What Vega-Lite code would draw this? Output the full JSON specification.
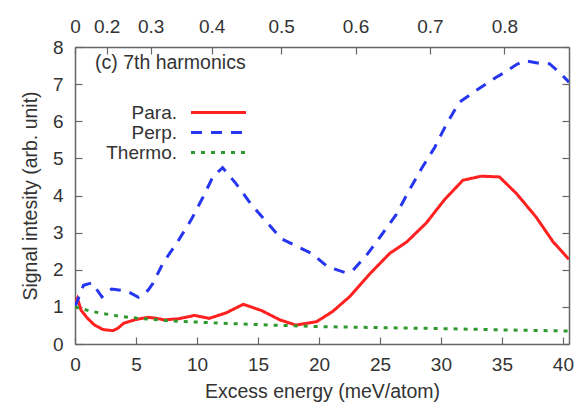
{
  "$schema": "https://vega.github.io/schema/vega-lite/v6.json",
  "width": 494,
  "height": 297,
  "autosize": {"type": "none"},
  "padding": {"left": 75, "top": 47, "right": 7, "bottom": 61},
  "background": "white",
  "config": {
    "view": {"stroke": null},
    "font": "Liberation Sans",
    "axis": {
      "domainColor": "#666",
      "domainWidth": 1.5,
      "tickColor": "#666",
      "tickWidth": 1.2,
      "tickSize": -7,
      "grid": false,
      "labelFont": "Liberation Sans",
      "labelFontSize": 19,
      "labelColor": "#333",
      "titleFont": "Liberation Sans",
      "titleFontSize": 19.5,
      "titleFontWeight": "normal",
      "titleColor": "#333"
    }
  },
  "title": {
    "text": "(c) 7th harmonics",
    "anchor": "start",
    "frame": "group",
    "dx": 20,
    "dy": 60,
    "fontSize": 19.5,
    "fontWeight": "normal",
    "font": "Liberation Sans",
    "color": "#333"
  },
  "data": {
    "values": [
      {"series": "Para.", "E": 0, "v": 1.1},
      {"series": "Para.", "E": 0.2, "v": 1.23},
      {"series": "Para.", "E": 0.5, "v": 0.91},
      {"series": "Para.", "E": 1.0, "v": 0.7},
      {"series": "Para.", "E": 1.6, "v": 0.51},
      {"series": "Para.", "E": 2.3, "v": 0.39},
      {"series": "Para.", "E": 3.1, "v": 0.36},
      {"series": "Para.", "E": 3.5, "v": 0.42},
      {"series": "Para.", "E": 4.0, "v": 0.56},
      {"series": "Para.", "E": 5.0, "v": 0.66},
      {"series": "Para.", "E": 6.0, "v": 0.72},
      {"series": "Para.", "E": 6.7, "v": 0.69},
      {"series": "Para.", "E": 7.3, "v": 0.65},
      {"series": "Para.", "E": 8.5, "v": 0.68},
      {"series": "Para.", "E": 9.8, "v": 0.77},
      {"series": "Para.", "E": 11.0, "v": 0.69},
      {"series": "Para.", "E": 12.4, "v": 0.84},
      {"series": "Para.", "E": 13.8, "v": 1.07},
      {"series": "Para.", "E": 15.3, "v": 0.9},
      {"series": "Para.", "E": 16.8, "v": 0.65},
      {"series": "Para.", "E": 18.1, "v": 0.51},
      {"series": "Para.", "E": 19.8, "v": 0.6},
      {"series": "Para.", "E": 21.1, "v": 0.87},
      {"series": "Para.", "E": 22.5, "v": 1.27},
      {"series": "Para.", "E": 24.2, "v": 1.9},
      {"series": "Para.", "E": 25.8, "v": 2.44},
      {"series": "Para.", "E": 27.2, "v": 2.75},
      {"series": "Para.", "E": 28.8, "v": 3.26},
      {"series": "Para.", "E": 30.3, "v": 3.89},
      {"series": "Para.", "E": 31.8, "v": 4.41},
      {"series": "Para.", "E": 33.3, "v": 4.52},
      {"series": "Para.", "E": 34.8, "v": 4.5},
      {"series": "Para.", "E": 36.2, "v": 4.05},
      {"series": "Para.", "E": 37.8, "v": 3.42},
      {"series": "Para.", "E": 39.2, "v": 2.75},
      {"series": "Para.", "E": 40.5, "v": 2.28},
      {"series": "Perp.", "E": 0, "v": 1.0},
      {"series": "Perp.", "E": 0.3, "v": 1.25},
      {"series": "Perp.", "E": 0.7, "v": 1.58},
      {"series": "Perp.", "E": 1.4, "v": 1.65},
      {"series": "Perp.", "E": 2.2, "v": 1.27},
      {"series": "Perp.", "E": 3.0, "v": 1.48},
      {"series": "Perp.", "E": 4.3, "v": 1.42},
      {"series": "Perp.", "E": 5.2, "v": 1.26},
      {"series": "Perp.", "E": 6.0, "v": 1.45},
      {"series": "Perp.", "E": 6.4, "v": 1.64},
      {"series": "Perp.", "E": 7.2, "v": 2.17},
      {"series": "Perp.", "E": 8.4, "v": 2.75},
      {"series": "Perp.", "E": 9.5, "v": 3.33},
      {"series": "Perp.", "E": 10.5, "v": 3.96},
      {"series": "Perp.", "E": 11.3, "v": 4.5},
      {"series": "Perp.", "E": 12.1, "v": 4.75},
      {"series": "Perp.", "E": 13.2, "v": 4.32},
      {"series": "Perp.", "E": 14.4, "v": 3.78},
      {"series": "Perp.", "E": 15.7, "v": 3.29},
      {"series": "Perp.", "E": 16.9, "v": 2.84},
      {"series": "Perp.", "E": 18.4, "v": 2.6},
      {"series": "Perp.", "E": 19.5, "v": 2.42},
      {"series": "Perp.", "E": 20.7, "v": 2.08},
      {"series": "Perp.", "E": 22.1, "v": 1.93},
      {"series": "Perp.", "E": 22.8, "v": 1.99},
      {"series": "Perp.", "E": 23.9, "v": 2.39},
      {"series": "Perp.", "E": 25.2, "v": 2.97},
      {"series": "Perp.", "E": 26.3, "v": 3.47},
      {"series": "Perp.", "E": 27.4, "v": 4.14},
      {"series": "Perp.", "E": 28.4, "v": 4.72},
      {"series": "Perp.", "E": 29.5, "v": 5.3},
      {"series": "Perp.", "E": 30.4, "v": 5.89},
      {"series": "Perp.", "E": 31.5, "v": 6.51},
      {"series": "Perp.", "E": 32.9, "v": 6.83},
      {"series": "Perp.", "E": 34.5, "v": 7.18},
      {"series": "Perp.", "E": 35.1, "v": 7.29},
      {"series": "Perp.", "E": 36.2, "v": 7.53},
      {"series": "Perp.", "E": 36.9, "v": 7.63},
      {"series": "Perp.", "E": 38.1, "v": 7.56},
      {"series": "Perp.", "E": 38.9, "v": 7.55},
      {"series": "Perp.", "E": 39.8, "v": 7.29},
      {"series": "Perp.", "E": 40.5, "v": 7.05},
      {"series": "Thermo.", "E": 0, "v": 1.0},
      {"series": "Thermo.", "E": 1.2, "v": 0.89},
      {"series": "Thermo.", "E": 2.3, "v": 0.82},
      {"series": "Thermo.", "E": 3.6, "v": 0.75},
      {"series": "Thermo.", "E": 5.0, "v": 0.7},
      {"series": "Thermo.", "E": 7.5, "v": 0.63},
      {"series": "Thermo.", "E": 11.3, "v": 0.57},
      {"series": "Thermo.", "E": 15.9, "v": 0.51},
      {"series": "Thermo.", "E": 20.0, "v": 0.47},
      {"series": "Thermo.", "E": 25.0, "v": 0.44},
      {"series": "Thermo.", "E": 29.3, "v": 0.42},
      {"series": "Thermo.", "E": 35.0, "v": 0.38},
      {"series": "Thermo.", "E": 40.5, "v": 0.35}
    ]
  },
  "layer": [
    {
      "mark": {"type": "line", "strokeWidth": 3, "clip": true},
      "encoding": {
        "x": {
          "field": "E", "type": "quantitative",
          "scale": {"domain": [0, 40.5], "nice": false, "zero": false},
          "axis": {"orient": "bottom", "title": "Excess energy (meV/atom)", "values": [0, 5, 10, 15, 20, 25, 30, 35, 40], "labelPadding": 18, "titlePadding": 8, "labelFlush": false}
        },
        "y": {
          "field": "v", "type": "quantitative",
          "scale": {"domain": [0, 8], "nice": false},
          "axis": {"orient": "left", "title": "Signal intesity (arb. unit)", "values": [0, 1, 2, 3, 4, 5, 6, 7, 8], "labelPadding": 19, "titlePadding": 12}
        },
        "color": {
          "field": "series", "type": "nominal",
          "scale": {"domain": ["Para.", "Perp.", "Thermo."], "range": ["#ff2020", "#2535f0", "#2e9a2e"]},
          "legend": {"orient": "none", "legendX": 115, "legendY": 56, "title": null, "symbolType": "M-5,0H5", "symbolSize": 121, "symbolStrokeWidth": 3, "labelFontSize": 19, "labelFont": "Liberation Sans", "labelColor": "#333", "labelAlign": "right", "labelOffset": -51, "symbolOffset": 19, "rowPadding": -1}
        },
        "strokeDash": {
          "field": "series", "type": "nominal",
          "scale": {"domain": ["Para.", "Perp.", "Thermo."], "range": [[1, 0], [11, 9], [4, 6]]},
          "legend": {"orient": "none", "legendX": 115, "legendY": 56, "title": null, "symbolType": "M-5,0H5", "symbolSize": 121, "symbolStrokeWidth": 3, "labelFontSize": 19, "labelFont": "Liberation Sans", "labelColor": "#333", "labelAlign": "right", "labelOffset": -51, "symbolOffset": 19, "rowPadding": -1}
        }
      }
    },
    {
      "mark": {"type": "line", "opacity": 0},
      "encoding": {
        "x": {
          "field": "E", "type": "quantitative",
          "scale": {"domain": [0, 40.5], "nice": false, "zero": false},
          "axis": {"orient": "top", "title": null, "values": [0, 2.6, 6.2, 11.2, 16.9, 23.0, 29.1, 35.2], "labelPadding": 18, "labelFlush": false,
            "labelExpr": "datum.value < 1 ? '0' : datum.value < 4 ? '0.2' : datum.value < 8 ? '0.3' : datum.value < 14 ? '0.4' : datum.value < 20 ? '0.5' : datum.value < 26 ? '0.6' : datum.value < 32 ? '0.7' : '0.8'"}
        },
        "y": {
          "field": "v", "type": "quantitative",
          "scale": {"domain": [0, 8], "nice": false},
          "axis": {"orient": "right", "title": null, "labels": false, "values": [0, 1, 2, 3, 4, 5, 6, 7, 8]}
        }
      }
    }
  ],
  "resolve": {"axis": {"x": "independent", "y": "independent"}}
}
